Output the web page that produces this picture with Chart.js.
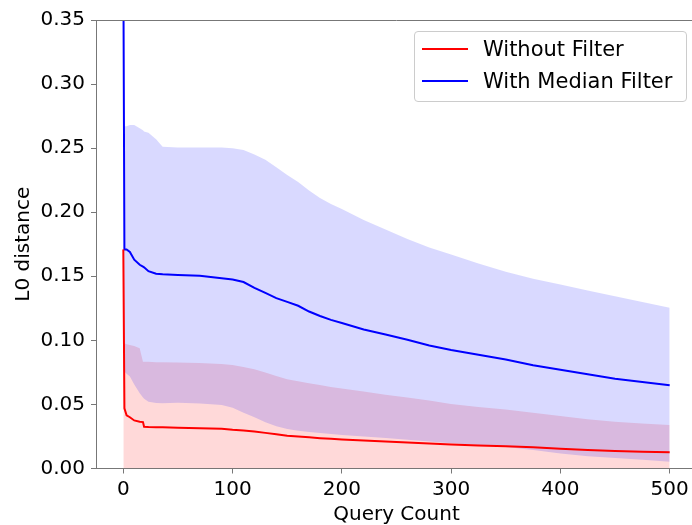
<!DOCTYPE html>
<html>
<head>
<meta charset="utf-8">
<script src="https://cdn.jsdelivr.net/npm/chart.js@4.4.1/dist/chart.umd.min.js"></script>
<style>
  html, body { margin: 0; padding: 0; background: #fff; overflow: hidden; }
  #wrap { position: relative; width: 692px; height: 525px; overflow: hidden; }
  #legend {
    position: absolute; left: 414px; top: 31px; width: 271px; height: 69px;
    border: 1px solid #cccccc; border-radius: 4px; background: rgba(255,255,255,0.8);
    font-family: "DejaVu Sans", sans-serif; font-size: 21px; color: #000;
  }
  .row { position: absolute; left: 0; height: 30px; line-height: 30px; white-space: nowrap; }
  .swatch { position: absolute; left: 7px; top: 14px; width: 46px; height: 2px; }
  .label { position: absolute; left: 68px; top: 0; }
</style>
</head>
<body>
<div id="wrap">
  <canvas id="chart" width="720" height="525" style="width:720px;height:525px"></canvas>
  <div id="legend">
    <div class="row" style="top:2px"><div class="swatch" style="background:#ff0000"></div><span class="label">Without Filter</span></div>
    <div class="row" style="top:34px"><div class="swatch" style="background:#0000ff"></div><span class="label">With Median Filter</span></div>
  </div>
</div>
<script>
// query counts at which values were read
const queries = [0, 1, 3, 6, 10, 15, 18, 19, 23, 30, 36, 50, 70, 90, 100, 110, 120, 130, 140, 150,
  160, 170, 180, 190, 200, 220, 240, 260, 280, 300, 325, 350, 375, 400, 425, 450, 475, 500];

// Without Filter: mean and upper edge of band (lower edge sits below 0)
const redMean = [0.171, 0.047, 0.0415, 0.040, 0.0375, 0.0365, 0.0362, 0.0326, 0.0324, 0.0322, 0.0321, 0.0318, 0.0314, 0.031, 0.0302, 0.0296, 0.0288, 0.0278, 0.0268, 0.0256,
  0.0249, 0.0243, 0.0237, 0.0232, 0.0227, 0.0218, 0.021, 0.0202, 0.0195, 0.0188, 0.018, 0.0173, 0.0165, 0.0154, 0.0144, 0.0137, 0.0131, 0.0126];
const redHigh = [0.0977, 0.0977, 0.097, 0.0964, 0.0955, 0.0938, 0.0834, 0.0834, 0.0833, 0.083, 0.083, 0.0828, 0.0824, 0.0816, 0.0808, 0.0792, 0.0775, 0.075, 0.0722, 0.0696,
  0.068, 0.0665, 0.0652, 0.0636, 0.0625, 0.060, 0.0576, 0.0555, 0.053, 0.0503, 0.048, 0.046, 0.0435, 0.041, 0.0385, 0.0365, 0.0352, 0.034];

// With Median Filter: mean, lower and upper edge of band
const blueMean = [0.40, 0.171, 0.171, 0.169, 0.163, 0.159, 0.1575, 0.157, 0.154, 0.152, 0.1515, 0.151, 0.1505, 0.1485, 0.1475, 0.1455, 0.141, 0.137, 0.133, 0.130,
  0.127, 0.1225, 0.119, 0.116, 0.1135, 0.1085, 0.1045, 0.1005, 0.096, 0.0925, 0.0887, 0.085, 0.0805, 0.077, 0.0735, 0.070, 0.0675, 0.065];
const blueLow = [0.0756, 0.0756, 0.074, 0.0717, 0.0655, 0.0587, 0.0555, 0.0545, 0.052, 0.0512, 0.0509, 0.0514, 0.0508, 0.0495, 0.0475, 0.0435, 0.040, 0.036, 0.033, 0.0308,
  0.0295, 0.0285, 0.0278, 0.027, 0.0262, 0.025, 0.0238, 0.0225, 0.021, 0.0198, 0.0183, 0.0168, 0.0145, 0.0118, 0.0095, 0.0082, 0.0068, 0.0053];
const blueHigh = [0.267, 0.267, 0.267, 0.268, 0.268, 0.2656, 0.264, 0.263, 0.262, 0.257, 0.251, 0.2505, 0.2505, 0.2505, 0.250, 0.2485, 0.245, 0.241, 0.235, 0.229,
  0.2235, 0.217, 0.211, 0.2065, 0.2025, 0.194, 0.1865, 0.179, 0.1725, 0.167, 0.160, 0.1536, 0.148, 0.1435, 0.139, 0.1345, 0.130, 0.1255];

const xTicks = [0, 100, 200, 300, 400, 500];
const yTicks = [0, 0.05, 0.10, 0.15, 0.20, 0.25, 0.30, 0.35];

const pts = (vals) => queries.map((q, i) => ({ x: q, y: vals[i] }));
const axisColor = '#777777';
const font = { family: 'DejaVu Sans', size: 20 };

// top spine
const frame = {
  id: 'frame',
  afterDraw(chart) {
    const { ctx, chartArea } = chart;
    ctx.save();
    ctx.strokeStyle = axisColor;
    ctx.lineWidth = 1;
    ctx.beginPath();
    ctx.moveTo(chartArea.left, chartArea.top + 0.5);
    ctx.lineTo(chartArea.right, chartArea.top + 0.5);
    ctx.stroke();
    ctx.restore();
  }
};

new Chart(document.getElementById('chart').getContext('2d'), {
  type: 'line',
  data: {
    datasets: [
      { label: 'Without Filter', data: pts(redMean), borderColor: '#ff0000', borderWidth: 2, pointRadius: 0, fill: false, order: 1 },
      { label: 'With Median Filter', data: pts(blueMean), borderColor: '#0000ff', borderWidth: 2, pointRadius: 0, fill: false, order: 2 },
      { label: 'blue low', data: pts(blueLow), borderWidth: 0, borderColor: 'rgba(0,0,0,0)', pointRadius: 0, fill: false, order: 3 },
      { label: 'blue high', data: pts(blueHigh), borderWidth: 0, borderColor: 'rgba(0,0,0,0)', pointRadius: 0,
        fill: '-1', backgroundColor: 'rgba(0,0,255,0.15)', order: 3 },
      { label: 'red high', data: pts(redHigh), borderWidth: 0, borderColor: 'rgba(0,0,0,0)', pointRadius: 0,
        fill: 'origin', backgroundColor: 'rgba(255,0,0,0.15)', order: 4 }
    ]
  },
  options: {
    responsive: false,
    animation: false,
    layout: { padding: { top: 20, right: 23, left: 0, bottom: 0 } },
    elements: { line: { tension: 0 } },
    plugins: { legend: { display: false }, tooltip: { enabled: false } },
    scales: {
      x: {
        type: 'linear', min: -25, max: 525,
        ticks: { stepSize: 100, color: '#000', font, padding: 4, maxRotation: 0 },
        afterBuildTicks: (s) => { s.ticks = xTicks.map(v => ({ value: v })); },
        afterFit: (s) => { s.height = 56.5; },
        grid: { drawOnChartArea: false, drawTicks: true, tickLength: 5, color: axisColor },
        border: { display: true, color: axisColor, width: 1 },
        title: { display: true, text: 'Query Count', color: '#000', font: { family: 'DejaVu Sans', size: 20, lineHeight: 1.0 }, padding: { top: 0, bottom: 0 } }
      },
      y: {
        type: 'linear', min: 0, max: 0.35,
        ticks: { color: '#000', font, padding: 6, callback: (v) => Number(v).toFixed(2) },
        afterBuildTicks: (s) => { s.ticks = yTicks.map(v => ({ value: v })); },
        afterFit: (s) => { s.width = 96; },
        grid: { drawOnChartArea: false, drawTicks: true, tickLength: 5, color: axisColor },
        border: { display: true, color: axisColor, width: 1 },
        title: { display: true, text: 'L0 distance', color: '#000', font, padding: { top: 12, bottom: 0 } }
      }
    }
  },
  plugins: [frame]
});
</script>
</body>
</html>
